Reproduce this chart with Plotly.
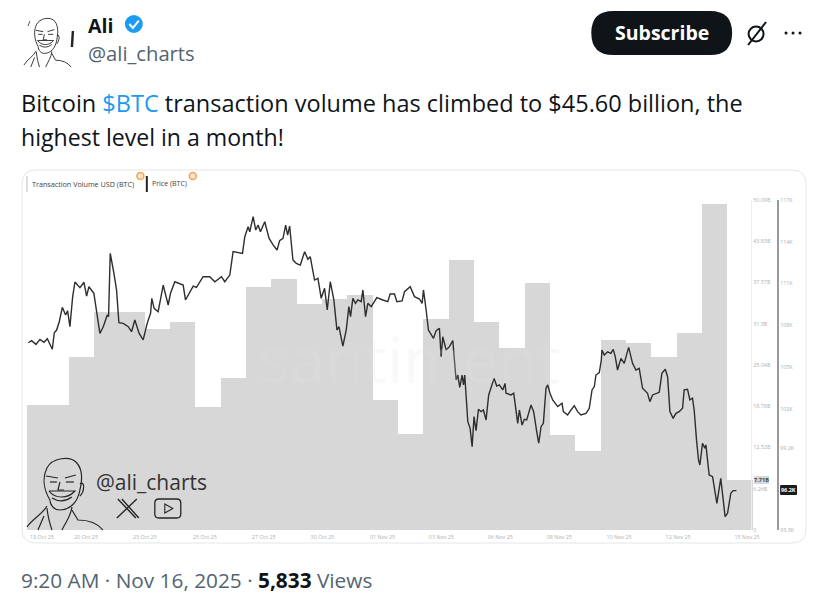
import pandas as pd
import plotly.graph_objects as go

W, H = 825, 605
FONT = "Open Sans"

bar_dates = pd.date_range("2025-10-17", "2025-11-14", freq="D")
volume_b = [19.0, 19.0, 26.3, 33.1, 33.1, 30.5, 31.6, 18.7, 23.1, 36.9, 38.1, 34.3, 35.1, 35.7,
            19.8, 14.6, 32.1, 41.0, 31.5, 27.7, 37.5, 14.4, 12.0, 28.9, 28.4, 26.3, 29.9, 49.5, 7.6]

price_hours = [1.3,4.4,8.5,12.3,16.1,19.3,24.0,25.9,28.1,30.6,33.5,36.6,38.5,40.7,43.3,45.5,50.2,54.0,56.5,58.7,
 63.4,66.6,69.1,72.3,76.1,77.3,78.9,82.4,84.9,87.1,91.2,96.0,99.1,102.2,106.3,110.1,113.9,117.1,118.3,120.5,
 124.3,129.1,133.8,136.0,140.1,148.0,150.2,157.5,160.6,166.9,173.2,178.0,184.3,187.4,192.2,195.3,204.2,206.4,209.5,211.1,
 214.3,216.8,219.0,221.2,225.3,229.4,233.2,237.0,239.4,242.6,245.1,247.0,248.9,252.0,255.2,259.0,263.1,266.2,268.4,272.5,
 275.7,278.8,282.0,284.5,287.4,290.8,293.7,295.6,299.3,302.5,305.0,306.6,308.8,311.3,313.5,316.7,318.3,320.8,323.0,326.2,
 331.5,337.2,341.9,344.1,348.2,350.5,355.5,357.7,363.1,367.2,371.9,374.4,375.7,378.2,380.4,385.2,387.7,390.8,392.4,394.0,
 397.2,400.3,403.5,405.0,406.6,408.2,410.1,412.3,413.6,414.8,417.7,419.9,421.8,423.6,425.5,427.8,430.3,432.5,435.0,437.5,
 442.6,445.1,447.6,450.8,453.0,453.9,458.7,461.2,465.0,466.6,469.1,471.3,473.5,477.6,480.1,483.0,484.9,487.1,489.3,491.8,
 493.4,495.6,498.1,502.9,507.0,508.2,512.3,515.5,518.6,521.8,524.9,529.7,532.8,535.4,537.6,539.1,542.3,544.2,544.8,547.0,
 550.2,553.3,555.5,557.4,559.6,562.8,565.9,570.1,573.8,577.0,580.1,583.3,588.0,590.2,592.8,599.1,601.6,604.8,607.0,609.2,
 612.3,614.9,618.0,621.2,622.7,625.9,628.1,630.6,632.2,634.4,636.3,637.6,640.1,642.3,643.3,646.4,649.6,653.7,657.4,659.7,
 661.5,663.8,666.9,669.1,672.3]
price_k = [106.75,106.90,106.63,106.99,106.78,107.04,106.28,107.47,107.66,108.26,109.29,108.74,109.05,107.90,110.06,111.11,110.70,111.09,110.10,110.77,
 110.30,108.86,107.42,107.90,108.74,108.62,113.17,111.73,110.53,108.19,108.14,107.90,107.54,108.38,107.42,106.95,108.14,108.86,109.94,109.22,
 108.98,110.89,109.46,110.30,111.13,110.89,109.82,110.82,110.73,111.49,111.49,111.13,111.49,111.13,111.61,113.29,113.17,114.36,115.08,114.72,
 115.80,114.84,115.20,114.72,115.44,114.24,113.77,113.41,114.08,114.24,115.20,114.48,115.13,112.69,112.45,112.33,113.29,112.74,112.93,111.25,
 111.37,109.94,110.66,109.10,111.13,109.82,107.66,107.90,106.51,107.66,109.34,108.62,109.94,109.58,109.82,109.70,110.54,108.62,109.58,109.34,
 109.99,109.82,109.70,110.25,110.25,109.70,109.75,110.42,110.77,110.06,109.89,109.58,110.54,109.10,107.66,107.07,107.62,107.78,105.75,107.18,
 106.23,106.47,106.90,105.51,104.07,104.43,103.55,104.43,103.72,104.43,101.08,100.60,99.29,101.44,100.44,101.97,101.80,101.92,101.20,103.00,
 104.19,103.64,103.72,103.36,103.83,103.12,103.00,103.12,100.96,101.92,100.84,101.25,101.20,102.28,101.80,100.36,99.53,100.72,100.96,103.48,
 103.72,103.12,102.64,102.16,102.40,101.80,101.56,101.92,102.23,101.80,101.56,101.68,102.04,103.36,103.60,104.43,104.60,105.51,106.22,105.86,
 106.10,105.98,106.27,105.75,104.79,105.63,105.27,106.42,105.27,104.79,104.91,103.48,103.12,102.52,103.00,103.19,104.55,104.84,104.31,101.80,
 101.32,101.68,101.80,102.04,103.36,103.40,102.64,102.76,101.92,99.77,98.33,97.97,99.53,99.17,99.41,97.25,97.13,95.22,97.01,95.46,
 94.26,94.50,95.94,96.13,96.13]

x_tick_dates = ["2025-10-18 14:12","2025-10-20 08:00","2025-10-22 15:40","2025-10-25 00:30","2025-10-27 08:20",
                "2025-10-29 16:00","2025-11-01 00:57","2025-11-03 08:40","2025-11-05 16:30","2025-11-08 00:25",
                "2025-11-10 09:00","2025-11-12 17:00","2025-11-15 10:20"]
x_tick_labels = ["18 Oct 25","20 Oct 25","23 Oct 25","25 Oct 25","27 Oct 25","30 Oct 25","01 Nov 25",
                 "03 Nov 25","06 Nov 25","08 Nov 25","10 Nov 25","12 Nov 25","15 Nov 25"]
vol_ticks = [0, 6.26, 12.52, 18.78, 25.04, 31.3, 37.57, 43.83, 50.09]
vol_labels = ["0","6.26B","12.52B","18.78B","25.04B","31.3B","37.57B","43.83B","50.09B"]
price_ticks = [93.3, 99.2, 102, 105, 108, 111, 114, 117]
price_labels = ["93.3K","99.2K","102K","105K","108K","111K","114K","117K"]

DAY_MS = 86400000
line_dates = pd.Timestamp("2025-10-18") + pd.to_timedelta(price_hours, unit="h")

def px(x): return x / W
def py(y): return 1 - (y - 4) / 597

fig = go.Figure()
fig.add_trace(go.Bar(x=bar_dates, y=volume_b, width=DAY_MS, offset=0.65 * DAY_MS,
                     marker=dict(color="#d7d7d7", line=dict(width=0)), yaxis="y", showlegend=False))
fig.add_trace(go.Scatter(x=line_dates, y=price_k, mode="lines", line=dict(color="#2e2e2e", width=1.4),
                         yaxis="y2", showlegend=False))

shapes, notes = [], []

def path_px(d_items, line=None, lw=1.0, fill=None):
    out = []
    for it in d_items:
        if isinstance(it, str):
            out.append(it)
        else:
            out.append(f"{px(it[0]):.5f},{py(it[1]):.5f}")
    s = dict(type="path", xref="paper", yref="paper", path=" ".join(out),
             line=dict(color=line or "rgba(0,0,0,0)", width=lw))
    if fill:
        s["fillcolor"] = fill
    shapes.append(s)

def rrect(x0, y0, x1, y1, r, line=None, lw=1.0, fill=None):
    path_px(["M", (x0 + r, y0), "L", (x1 - r, y0), "Q", (x1, y0), (x1, y0 + r), "L", (x1, y1 - r),
             "Q", (x1, y1), (x1 - r, y1), "L", (x0 + r, y1), "Q", (x0, y1), (x0, y1 - r), "L", (x0, y0 + r),
             "Q", (x0, y0), (x0 + r, y0), "Z"], line, lw, fill)

def circle(cx, cy, r, line=None, lw=1.0, fill=None):
    shapes.append(dict(type="circle", xref="paper", yref="paper", x0=px(cx - r), x1=px(cx + r),
                       y0=py(cy + r), y1=py(cy - r), line=dict(color=line or "rgba(0,0,0,0)", width=lw),
                       fillcolor=fill or "rgba(0,0,0,0)"))

def text(x, y, s, size, color="#0f1419", anchor="left", family=FONT, bg=None):
    a = dict(xref="paper", yref="paper", x=px(x), y=py(y), text=s, showarrow=False, xanchor=anchor,
             yanchor="middle", font=dict(family=family, size=size, color=color), borderpad=0, borderwidth=0)
    if bg:
        a["bgcolor"] = bg
    notes.append(a)

# Card
rrect(22, 170, 807, 543, 14, line="#e3e6e8", lw=1)

# Avatar line art: segments in big-avatar pixel space
AV = [
 [(50,500),"C",(44,490),(42,478),(47,468),"C",(52,458),(70,455),(77,463),"C",(83,470),(82,482),(80,490),"C",(78,502),(70,510),(60,510),"C",(54,510),(50,505),(50,500)],
 [(80,484),"C",(85,480),(85,491),(80,496)],
 [(46,476),"L",(58,478)], [(65,478),"L",(76,475)],
 [(50,482),"L",(57,482)], [(66,482),"L",(74,482)],
 [(60,482),"L",(58,490),"L",(64,490)],
 [(49,491),"C",(55,499),(68,499),(75,491),"L",(49,491)],
 [(52,498),"Q",(62,504),(72,497)],
 [(27,527),"C",(33,518),(42,515),(47,506)],
 [(72,507),"C",(71,516),(66,522),(62,530)],
 [(72,510),"L",(78,520),"Q",(95,520),(103,530)],
 [(47,508),"C",(48,518),(50,524),(52,530)],
 [(38,530),"L",(44,516)],
]

def avatar(tx, ty, lw):
    for seg in AV:
        items = []
        for p in seg:
            if isinstance(p, str):
                items.append(p)
            else:
                items.append((tx(p[0]), ty(p[1])))
        path_px(["M"] + items, line="#262626", lw=lw)

avatar(lambda x: x, lambda y: y, 1.2)
avatar(lambda x: 24 + (x - 27) * 0.62, lambda y: 67 - (530 - y) * 0.68, 0.9)
path_px(["M", (73, 31), "L", (72, 47)], line="#222222", lw=2.5)
path_px(["M", (28, 26), "L", (30, 21)], line="#555555", lw=1)

# Header
text(88, 25, "<b>Ali</b>", 19.5)
circle(134, 24, 9, fill="#1d9bf0")
path_px(["M", (129.5, 24), "L", (133, 28), "L", (139, 20.5)], line="white", lw=2)
text(88, 53, "@ali_charts", 20.2, "#536471")
rrect(592, 11, 733, 55, 22, fill="#0f1419")
text(662.5, 33, "<b>Subscribe</b>", 19.5, "white", "center")
circle(757, 34, 7.5, line="#0f1419", lw=2)
path_px(["M", (749, 45), "L", (767, 22)], line="#0f1419", lw=2)
for cx in (787, 794, 801):
    circle(cx, 33, 1.5, fill="#0f1419")

# Tweet text
text(21, 103, 'Bitcoin <span style="color:#1d9bf0">$BTC</span> transaction volume has climbed to $45.60 billion, the', 23.5)
text(21, 137, "highest level in a month!", 23.1)
text(21, 580, '9:20 AM · Nov 16, 2025 · <b><span style="color:#0f1419">5,833</span></b> Views', 20.8, "#536471")

# Legend
path_px(["M", (27, 176), "L", (27, 192)], line="#dddddd", lw=2)
text(32, 184, "Transaction Volume USD (BTC)", 7.2, "#444444")
path_px(["M", (147, 176), "L", (147, 192)], line="#222222", lw=2)
text(152, 184, "Price (BTC)", 7, "#444444")
circle(140.5, 176, 3.5, line="#f0a95a", lw=1.6, fill="#fbe3c4")
circle(193, 176, 3.5, line="#f0a95a", lw=1.6, fill="#fbe3c4")

# Watermark and brand
text(410, 358, "santiment", 64, "rgba(226,226,232,0.22)", "center")
text(96, 482, "@ali_charts", 21, "#333333")
x_seg = [["M", (118, 499), "L", (136, 518)], ["M", (122, 499), "L", (139, 518)], ["M", (137, 499), "L", (117, 518)]]
for s in x_seg:
    path_px(s, line="#262626", lw=1.4)
rrect(155, 499, 181, 518, 4, line="#262626", lw=1.3)
path_px(["M", (165, 504), "L", (173, 508.5), "L", (165, 513), "Z"], line="#262626", lw=1.1)

# Value chips on right axes
text(762, 480, "<b>7.71B</b>", 5.6, "#444444", "center", bg="#d8d8d8")
rrect(781, 485, 798, 495, 1, fill="#1b1b1b")
text(789.5, 490, "<b>96.2K</b>", 5.4, "white", "center")

TICK = dict(family=FONT, size=5.4, color="#b0b0b0")
fig.update_layout(
    width=W, height=H, autosize=False,
    margin=dict(l=0, r=0, t=0, b=0), paper_bgcolor="white", plot_bgcolor="rgba(0,0,0,0)",
    bargap=0, barmode="overlay", showlegend=False,
    shapes=shapes, annotations=notes,
    xaxis=dict(type="date", domain=[px(27), px(760)],
               range=["2025-10-18 00:00", pd.Timestamp("2025-10-18") + pd.Timedelta(days=(760 - 27) / 25.36)],
               tickmode="array", tickvals=x_tick_dates, ticktext=x_tick_labels, tickangle=0,
               tickfont=TICK, showgrid=False, zeroline=False, showline=False,
               ticks="outside", ticklen=2, tickcolor="rgba(0,0,0,0)", anchor="y"),
    yaxis=dict(domain=[py(530), py(200)], range=[0, 50.09], anchor="free", position=px(752), side="right",
               tickmode="array", tickvals=vol_ticks, ticktext=vol_labels, tickfont=TICK,
               showgrid=False, zeroline=False, showline=True, linecolor="#ececec", linewidth=1, ticks=""),
    yaxis2=dict(domain=[py(530), py(200)], range=[93.3, 117], overlaying="y", anchor="free", position=px(779),
                side="right", tickmode="array", tickvals=price_ticks, ticktext=price_labels, tickfont=TICK,
                showgrid=False, zeroline=False, showline=True, linecolor="#9a9a9a", linewidth=2, ticks=""),
)
fig.write_html("out.html", config=dict(displayModeBar=False),
               post_script="document.body.style.margin='0';document.documentElement.style.overflow='hidden';")
